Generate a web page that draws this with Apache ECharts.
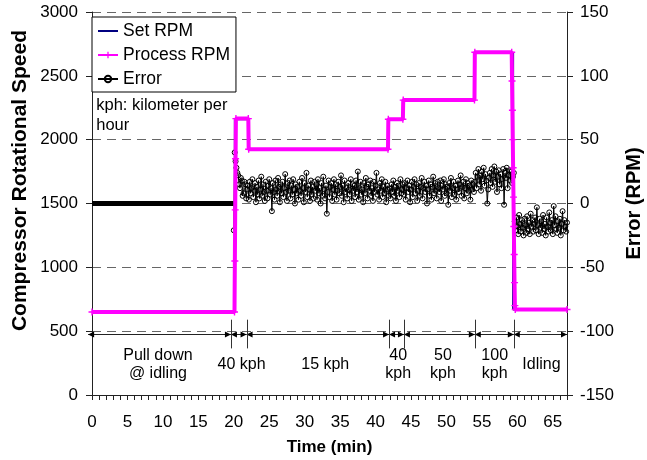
<!DOCTYPE html>
<html><head><meta charset="utf-8">
<script src="https://cdn.jsdelivr.net/npm/echarts@6/dist/echarts.min.js"></script>
<style>html,body{margin:0;padding:0;background:#fff}#c{width:647px;height:460px}</style>
</head><body><div id="c"></div>
<script>
// ---- axis ranges / ticks ----
const timeMin = 0, timeMax = 67, timeStep = 5;
const rpmMin = 0, rpmMax = 3000, rpmStep = 500;
const errMin = -150, errMax = 150, errStepAxis = 50;

// ---- Set RPM (step profile) ----
const setTime = [0, 20.15, 20.15, 22.1, 22.1, 41.8, 41.8, 43.9, 43.9, 54.0, 54.0, 59.4, 59.4, 67];
const setRpm  = [650, 650, 2160, 2160, 1920, 1920, 2160, 2160, 2310, 2310, 2680, 2680, 670, 670];

// ---- Process RPM ----
const procTime = [0, 20.1, 20.15, 20.2, 20.25, 20.3, 22.05, 22.1, 41.75, 41.8, 43.85, 43.9, 53.95, 54.0, 59.2, 59.25, 59.3, 59.35, 59.4, 59.45, 59.5, 59.55, 59.6, 59.65, 59.7, 67];
const procRpm  = [650, 650, 1050, 1450, 1850, 2165, 2165, 1925, 1925, 2160, 2160, 2310, 2310, 2685, 2685, 2460, 2230, 2000, 1780, 1550, 1320, 1100, 880, 700, 670, 670];

// ---- Error (RPM), right axis ----
const errFlatTime = [0, 20];
const errFlatVal  = [0, 0];
const errStart = 20, errStep = 0.125;   // sampling of the readings below
const errSegA = [-21, 40, 33, 28, 24, 22, 15, 12, 20, 18, 6, 8, 17, 15, 4, 11];
const errSegB = [
  14, 3, 17, 8, 12, 19, 5, 10, 16, 1, 13, 7, 18, 4, 11, 21, 6, 15, 9, 2,
  17, 10, 4, 14, 19, 7, 12, -6, 16, 9, 3, 18, 11, 6, 20, 13, 1, 15, 8, 17,
  5, 12, 23, 9, 2, 16, 10, 18, 4, 14, 7, 19, 11, 0, 15, 8, 13, 3, 17, 10,
  6, 20, 12, 1, 16, 9, 24, 5, 14, 11, 2, 18, 7, 13, 4, 17, 10, 15, 3, 19,
  8, 12, 0, 16, 6, 21, 11, 4, 14, -8, 9, 18, 5, 13, 16, 2, 11, 19, 7, 15,
  3, 10, 17, 8, 13, 22, 6, 14, 1, 18, 9, 12, 4, 16, 11, 7, 19, 2, 15, 10,
  14, 5, 18, 9, 25, 3, 12, 17, 7, 11, 1, 16, 8, 20, 13, 4, 15, 10, 18, 6,
  12, 2, 17, 9, 14, 24, 7, 11, 3, 16, 10, 19, 5, 13, 8, 17, 1, 14, 11, 6];
const errSegC = [12, 4, 15, 9, 18, 6, 13, 2, 16, 10, 14, 5, 19, 8, 11, 15];
const errSegD = [
  7, 16, 3, 12, 18, 9, 14, 1, 11, 17, 5, 13, 19, 8, 15, 2, 10, 16, 6, 13,
  20, 4, 12, 17, 9, 14, 0, 11, 18, 6, 15, 3, 13, 21, 8, 16, 10, 4, 17, 12,
  9, 18, 2, 14, 11, 19, 6, 15, 8, 13, -1, 16, 10, 20, 5, 12, 17, 7, 14, 3,
  11, 18, 9, 15, 22, 6, 13, 17, 4, 12, 19, 8, 16, 10, 14, 3, 18, 11, 15, 9];
const errSegE = [
  17, 24, 12, 21, 27, 15, 22, 10, 25, 19, 28, 14, 23, 18, 0, 11, 20, 24, 16, 27,
  13, 22, 29, 17, 25, 9, 21, 26, 15, 23, 12, 19, 27, -1, 24, 20, 28, 12, 22, 26,
  18, 25, 16, 21, 24];
const errSegF = [
  -14, -21, -11, -18, -24, -9, -16, -22, -13, -19, -25, -12, -17, -23, -10, -20, -15, -24, -8, -18,
  -13, -22, -16, -11, -21, -3, -17, -24, -12, -19, -14, -23, -9, -20, -16, -25, -11, -18, -22, -7,
  -15, -21, -13, -24, -2, -17, -10, -20, -23, -14, -19, -12, -25, -16, -6, -21, -13, -18, -22, -15];

// ---- test-phase annotation ----
const phaseBounds = [19.6, 21.8, 41.9, 44.0, 54.0, 59.5];
const phaseLabels = ['Pull down\n@ idling', '40 kph', '15 kph', '40\nkph', '50\nkph', '100\nkph', 'Idling'];
const phaseLabelTime = [9.3, 21.1, 32.9, 43.2, 49.5, 56.8, 63.4];
const noteText = 'kph: kilometer per\nhour';
const leftTitle = 'Compressor Rotational Speed';

const FONT = '"Liberation Sans", Arial, sans-serif';
const zip = (a, b) => a.map((v, i) => [v, b[i]]);
const errVals = [].concat(errSegA, errSegB, errSegC, errSegD, errSegE, errSegF);
const errData = errVals.map((v, i) => [errStart + i * errStep, v]);
const plusPath = 'path://M4,0 L6,0 L6,4 L10,4 L10,6 L6,6 L6,10 L4,10 L4,6 L0,6 L0,4 L4,4 Z';
const linePath = 'path://M0,0 L20,0 L20,2 L0,2 Z';

const chart = echarts.init(document.getElementById('c'), null, {renderer: 'canvas'});
chart.setOption({
  animation: false,
  backgroundColor: '#fff',
  textStyle: {fontFamily: FONT, color: '#000'},
  grid: {left: 92, right: 80, top: 12, bottom: 65, containLabel: false, outerBoundsMode: 'none'},
  legend: {
    data: [{name: 'Set RPM', icon: linePath}, 'Process RPM', 'Error'],
    orient: 'vertical', left: 92, top: 17,
    backgroundColor: '#fff', borderColor: '#000', borderWidth: 1, borderRadius: 0,
    padding: [5, 6, 4, 5], itemGap: 6, itemWidth: 20, itemHeight: 8,
    textStyle: {fontSize: 17.5, fontFamily: FONT, color: '#000'}
  },
  xAxis: {
    type: 'value', min: timeMin, max: timeMax, interval: timeStep,
    name: 'Time (min)', nameLocation: 'middle', nameGap: 44,
    nameTextStyle: {fontSize: 17, fontWeight: 'bold', fontFamily: FONT, color: '#000'},
    axisLine: {onZero: false, lineStyle: {color: '#222', width: 1}},
    axisTick: {show: true, length: 5, lineStyle: {color: '#222'}},
    minorTick: {show: true, splitNumber: 5, length: 5, lineStyle: {color: '#222'}},
    axisLabel: {fontSize: 17, margin: 19, color: '#000', fontFamily: FONT,
      showMaxLabel: false, formatter: v => String(v)},
    splitLine: {show: false}
  },
  yAxis: [{
    type: 'value', min: rpmMin, max: rpmMax, interval: rpmStep, position: 'left',
    axisLine: {show: true, lineStyle: {color: '#222'}},
    axisTick: {show: true, length: 6, lineStyle: {color: '#222'}},
    axisLabel: {fontSize: 17, margin: 14, color: '#000', fontFamily: FONT, formatter: v => String(v)},
    splitLine: {show: true, lineStyle: {color: '#666', type: [9, 6], width: 1}}
  }, {
    type: 'value', min: errMin, max: errMax, interval: errStepAxis, position: 'right',
    name: 'Error (RPM)', nameLocation: 'middle', nameGap: 56, nameRotate: 90,
    nameTextStyle: {fontSize: 20, fontWeight: 'bold', fontFamily: FONT, color: '#000'},
    axisLine: {show: true, lineStyle: {color: '#222'}},
    axisTick: {show: true, length: 6, lineStyle: {color: '#222'}},
    axisLabel: {fontSize: 17, margin: 13, color: '#000', fontFamily: FONT, formatter: v => String(v)},
    splitLine: {show: false}
  }],
  series: [{
    name: 'Set RPM', type: 'line', yAxisIndex: 0, symbol: 'none',
    data: zip(setTime, setRpm),
    lineStyle: {color: '#000080', width: 2}, itemStyle: {color: '#000080'}, z: 2
  }, {
    name: 'Error (flat)', type: 'line', yAxisIndex: 1, symbol: 'none',
    data: zip(errFlatTime, errFlatVal),
    lineStyle: {color: '#000', width: 5}, z: 3
  }, {
    name: 'Error', type: 'line', yAxisIndex: 1, symbol: 'circle', symbolSize: 5,
    showAllSymbol: true,
    data: errData,
    lineStyle: {color: '#000', width: 1},
    itemStyle: {color: 'rgba(0,0,0,0)', borderColor: '#000', borderWidth: 1}, z: 3
  }, {
    name: 'Process RPM', type: 'line', yAxisIndex: 0, symbol: plusPath, symbolSize: 7,
    showAllSymbol: true,
    data: zip(procTime, procRpm),
    lineStyle: {color: '#ff00ff', width: 4}, itemStyle: {color: '#ff00ff'}, z: 4
  }]
});

// ---- annotation drawn in data coordinates ----
const px = t => chart.convertToPixel({xAxisIndex: 0}, t);
const py = v => chart.convertToPixel({yAxisIndex: 0}, v);
const arrowRpm = 478, bndTopRpm = 590, bndBotRpm = 365, labelRpm = 242;
const ends = [-0.55].concat(phaseBounds, [timeMax]);
const yA = Math.round(py(arrowRpm)) + 0.5;
const g = [];
for (let i = 0; i < ends.length - 1; i++) {
  const x1 = px(ends[i]), x2 = px(ends[i + 1]);
  g.push({type: 'line', shape: {x1: x1, y1: yA, x2: x2, y2: yA}, style: {stroke: '#222', lineWidth: 1}, silent: true, z: 10});
  g.push({type: 'polygon', shape: {points: [[x1, yA], [x1 + 6, yA - 3], [x1 + 6, yA + 3]]}, style: {fill: '#000'}, silent: true, z: 10});
  g.push({type: 'polygon', shape: {points: [[x2, yA], [x2 - 6, yA - 3], [x2 - 6, yA + 3]]}, style: {fill: '#000'}, silent: true, z: 10});
}
phaseBounds.forEach(t => {
  const x = Math.round(px(t)) + 0.5;
  g.push({type: 'line', shape: {x1: x, y1: py(bndTopRpm), x2: x, y2: py(bndBotRpm)}, style: {stroke: '#333', lineWidth: 1}, silent: true, z: 10});
});
phaseLabels.forEach((s, i) => {
  g.push({type: 'text', x: px(phaseLabelTime[i]), y: py(labelRpm), silent: true, z: 10,
    style: {text: s, align: 'center', verticalAlign: 'middle', font: '16px ' + FONT, lineHeight: 18, fill: '#000'}});
});
g.push({type: 'text', x: px(0.6), y: py(2190), silent: true, z: 10,
  style: {text: noteText, align: 'left', verticalAlign: 'middle', font: '16.5px ' + FONT, lineHeight: 20, fill: '#000'}});
// left axis title (placed as in the reference: centred a little above the plot middle)
g.push({type: 'text', x: 20.5, y: py(1680), rotation: Math.PI / 2, silent: true, z: 10,
  style: {text: leftTitle, align: 'center', verticalAlign: 'middle', font: 'bold 21px ' + FONT, fill: '#000'}});
chart.setOption({graphic: g});
</script>
</body></html>
